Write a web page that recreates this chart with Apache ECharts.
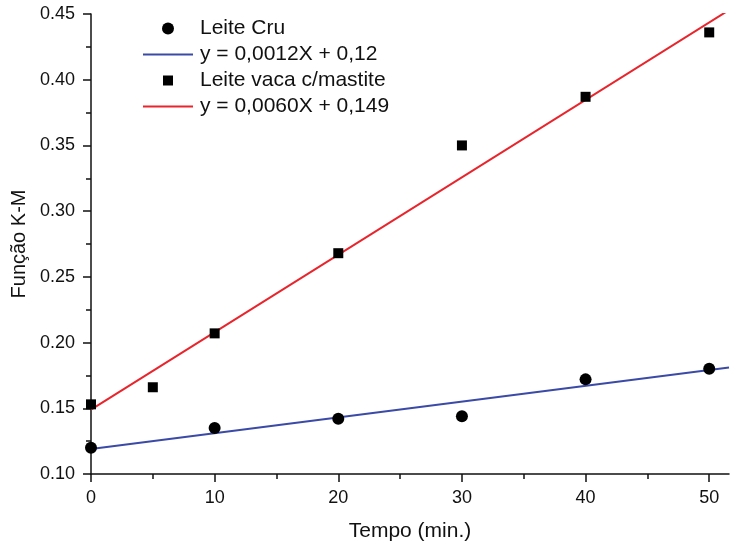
<!DOCTYPE html>
<html><head><meta charset="utf-8">
<script src="https://cdn.jsdelivr.net/npm/echarts@6/dist/echarts.min.js"></script>
<style>html,body{margin:0;padding:0;background:#fff}#c{width:731px;height:544px}</style>
</head><body><div id="c"></div>
<script>
const cruX = [0, 10, 20, 30, 40, 50];
const cruY = [0.120, 0.135, 0.142, 0.144, 0.172, 0.180];
const mastX = [0, 5, 10, 20, 30, 40, 50];
const mastY = [0.153, 0.166, 0.207, 0.268, 0.350, 0.387, 0.436];
const fitX = [0, 51.6];
const cruFitY = [0.119, 0.181];
const mastFitY = [0.149, 0.453];
const xTicks = [0, 10, 20, 30, 40, 50];
const names = ['Leite Cru', 'y = 0,0012X + 0,12', 'Leite vaca c/mastite', 'y = 0,0060X + 0,149'];

const zip = (a, b) => a.map((v, i) => [v, b[i]]);
const font = 'Liberation Sans, Arial, sans-serif';
const lineIcon = 'path://M0,0M50,12M0,5L50,5L50,7L0,7Z';
const chart = echarts.init(document.getElementById('c'), null, {renderer: 'canvas'});
chart.setOption({
  animation: false,
  grid: {left: 91, top: 14, right: 2, bottom: 70, containLabel: false, outerBoundsMode: 'none'},
  legend: {
    orient: 'vertical', left: 138, top: 13, itemWidth: 50, itemHeight: 12, itemGap: 5,
    textStyle: {fontFamily: font, fontSize: 21, color: '#111', padding: [0, 0, 0, 2]},
    data: [
      {name: names[0], icon: 'circle'},
      {name: names[1], icon: lineIcon},
      {name: names[2], icon: 'path://M0,0M50,12M20,1L30,1L30,11L20,11Z'},
      {name: names[3], icon: lineIcon}
    ]
  },
  xAxis: {
    type: 'value', min: 0, max: 51.6, interval: 10,
    name: 'Tempo (min.)', nameLocation: 'middle', nameGap: 47,
    nameTextStyle: {fontFamily: font, fontSize: 21, color: '#111'},
    axisLine: {lineStyle: {color: '#111', width: 1.5}},
    axisTick: {inside: false, length: 8, customValues: xTicks, lineStyle: {color: '#111', width: 1.5}},
    minorTick: {show: true, splitNumber: 2, length: 5, lineStyle: {color: '#111', width: 1.5}},
    axisLabel: {fontFamily: font, fontSize: 18, color: '#111', margin: 15, customValues: xTicks},
    splitLine: {show: false}
  },
  yAxis: {
    type: 'value', min: 0.10, max: 0.45, interval: 0.05,
    name: 'Função K-M', nameLocation: 'middle', nameGap: 62,
    nameTextStyle: {fontFamily: font, fontSize: 20, color: '#111'},
    axisLine: {show: true, lineStyle: {color: '#111', width: 1.5}},
    axisTick: {show: true, inside: false, length: 8, lineStyle: {color: '#111', width: 1.5}},
    minorTick: {show: true, splitNumber: 2, length: 5, lineStyle: {color: '#111', width: 1.5}},
    axisLabel: {fontFamily: font, fontSize: 18, color: '#111', margin: 16, formatter: v => v.toFixed(2)},
    splitLine: {show: false}
  },
  series: [
    {name: names[0], type: 'scatter', symbol: 'circle', symbolSize: 12, itemStyle: {color: '#000', opacity: 1}, data: zip(cruX, cruY), z: 3},
    {name: names[1], type: 'line', symbol: 'none', clip: true, lineStyle: {color: '#3a4aa6', width: 2}, itemStyle: {color: '#3a4aa6'}, data: zip(fitX, cruFitY), z: 2},
    {name: names[2], type: 'scatter', symbol: 'rect', symbolSize: 10, itemStyle: {color: '#000', opacity: 1}, data: zip(mastX, mastY), z: 3},
    {name: names[3], type: 'line', symbol: 'none', clip: true, lineStyle: {color: '#e8242c', width: 2}, itemStyle: {color: '#e8242c'}, data: zip(fitX, mastFitY), z: 2}
  ]
});
</script></body></html>
